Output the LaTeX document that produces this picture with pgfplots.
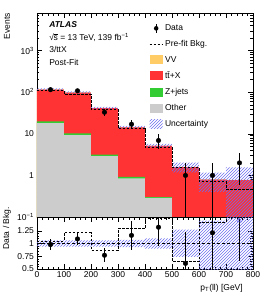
\documentclass[border=0pt]{standalone}
\usepackage{fontspec}
\setmainfont{Liberation Sans}
\usepackage{pgfplots}
\pgfplotsset{compat=1.18}
\usetikzlibrary{patterns}
\definecolor{vvc}{RGB}{255,204,102}
\definecolor{ttxc}{RGB}{255,51,51}
\definecolor{zjc}{RGB}{51,204,51}
\definecolor{othc}{RGB}{204,204,204}
\definecolor{hatchc}{RGB}{110,110,240}
\begin{document}
\fontsize{8.5}{10}\selectfont
\begin{tikzpicture}
\pgfplotsset{
  atlas/.style={
    width=216pt, scale only axis, xmin=0, xmax=800,
    xtick={0,100,...,800}, minor x tick num=4,
    tick align=inside, major tick length=5pt, minor tick length=2.5pt,
    /pgf/number format/assume math mode=true,
    tick label style={font=\fontsize{8.5}{10}\selectfont},
    label style={font=\fontsize{8.5}{10}\selectfont},
    axis line style={black, line width=0.6pt},
    every tick/.style={black, line width=0.4pt},
    clip=true,
  }
}
\begin{axis}[atlas, name=main, height=204pt, ymode=log, ymin=0.1, ymax=8000,
  xticklabels=\empty,
  ytick={0.1,1,10,100,1000},
  yticklabels={10\textsuperscript{−1},1,10,10\textsuperscript{2},10\textsuperscript{3}},
  minor ytick={0.2,0.3,0.4,0.5,0.6,0.7,0.8,0.9,2,3,4,5,6,7,8,9,20,30,40,50,60,70,80,90,200,300,400,500,600,700,800,900,2000,3000,4000,5000,6000,7000,8000},
  ylabel={Events},
  every axis y label/.style={at={(rel axis cs:0,1)}, xshift=-30pt, rotate=90, anchor=east, inner sep=0pt},
  legend style={at={(rel axis cs:0.519,0.953)}, anchor=north west, draw=none, fill=none,
    font=\fontsize{8.5}{10}\selectfont, row sep=4.5pt, inner sep=0pt,
    /tikz/every even column/.append style={column sep=4pt}},
  legend cell align=left,
]
% VV (total)
\addplot[fill=vvc, draw=none, const plot, forget plot] coordinates {(0,0.001) (0,117) (100,99) (200,42) (300,14.5) (400,5.2) (500,1.6) (600,0.8) (700,0.78) (800,0.78) (800,0.001)};
% ttX cumulative
\addplot[fill=ttxc, draw=none, const plot, forget plot] coordinates {(0,0.001) (0,115.8) (100,98) (200,41.55) (300,14.35) (400,5.14) (500,1.58) (600,0.79) (700,0.77) (800,0.77) (800,0.001)};
% Z+jets cumulative
\addplot[fill=zjc, draw=none, const plot, forget plot] coordinates {(0,0.001) (0,20) (100,10.3) (200,3.15) (300,0.92) (400,0.30) (500,0.02) (600,0.01) (700,0.01) (800,0.01) (800,0.001)};
% Other
\addplot[fill=othc, draw=none, const plot, forget plot] coordinates {(0,0.001) (0,18) (100,9.3) (200,2.9) (300,0.85) (400,0.29) (500,0.02) (600,0.01) (700,0.01) (800,0.01) (800,0.001)};
% Uncertainty band
\addplot[draw=none, pattern=north east lines, pattern color=hatchc, forget plot] coordinates {
 (0,124) (100,124) (100,105) (200,105) (200,44.5) (300,44.5) (300,15.5) (400,15.5) (400,5.7) (500,5.7) (500,2.03) (600,2.03) (600,1.16) (700,1.16) (700,1.56) (800,1.56)
 (800,0.01) (700,0.01) (700,0.4) (600,0.4) (600,1.18) (500,1.18) (500,4.7) (400,4.7) (400,13.5) (300,13.5) (300,39.5) (200,39.5) (200,93) (100,93) (100,110) (0,110)};
% Pre-fit
\addplot[black, line width=0.8pt, dash pattern=on 2.5pt off 1.5pt, const plot, forget plot] coordinates {(0,110) (100,89) (200,38) (300,13.2) (400,4.6) (500,1.54) (600,0.71) (700,0.47) (800,0.47)};
% Data
\addplot[black, only marks, mark=*, mark size=2.3pt, forget plot,
  error bars/.cd, y dir=both, y explicit, error mark=none, error bar style={line width=0.8pt, black}]
  coordinates {(50,115) +- (0,10.7) (150,108) +- (0,10.4) (250,33) +- (0,5.7) (350,17) +- (0,4.1)
   (450,6.9) += (0,3.1) -= (0,2.7) (550,1) += (0,1) -= (0,0.99) (650,1) += (0,1) -= (0,0.99) (750,2) +- (0,1.41)};
% legend
\addlegendimage{legend image code/.code={\path[draw=none, fill=none] (0pt,-4.5pt) (13pt,4.5pt); \draw[black, solid, line width=0.8pt] (6.5pt,-4.5pt)--(6.5pt,4.5pt); \fill[black, draw=none] (6.5pt,0pt) circle[radius=2.3pt];}}
\addlegendentry{Data}
\addlegendimage{legend image code/.code={\path[draw=none, fill=none] (0pt,-4.5pt) (13pt,4.5pt); \draw[black, line width=0.8pt, dash pattern=on 2.5pt off 1.5pt] (0pt,0pt)--(13pt,0pt);}}
\addlegendentry{Pre-fit Bkg.}
\addlegendimage{legend image code/.code={\fill[vvc, draw=none] (0pt,-4.5pt) rectangle (13pt,4.5pt);}}
\addlegendentry{VV}
\addlegendimage{legend image code/.code={\fill[ttxc, draw=none] (0pt,-4.5pt) rectangle (13pt,4.5pt);}}
\addlegendentry{t\={t}+X}
\addlegendimage{legend image code/.code={\fill[zjc, draw=none] (0pt,-4.5pt) rectangle (13pt,4.5pt);}}
\addlegendentry{Z+jets}
\addlegendimage{legend image code/.code={\fill[othc, draw=none] (0pt,-4.5pt) rectangle (13pt,4.5pt);}}
\addlegendentry{Other}
\addlegendimage{legend image code/.code={\path[draw=none, pattern=north east lines, pattern color=hatchc] (0pt,-4.5pt) rectangle (13pt,4.5pt);}}
\addlegendentry{Uncertainty}
% labels
\node[anchor=west, inner sep=0pt, font=\fontsize{8.5}{10}\selectfont\bfseries\itshape] at (rel axis cs:0.056,0.941) {ATLAS};
\node[anchor=west, inner sep=0pt] at (rel axis cs:0.056,0.879) {√\kern-0.3pt\makebox[0pt][l]{\rule[6.5pt]{4.3pt}{0.45pt}}s = 13 TeV, 139 fb\textsuperscript{−1}};
\node[anchor=west, inner sep=0pt] at (rel axis cs:0.056,0.819) {3/ttX};
\node[anchor=west, inner sep=0pt] at (rel axis cs:0.056,0.756) {Post-Fit};
\end{axis}

\begin{axis}[atlas, name=ratio, at={(main.south west)}, anchor=north west, height=52pt,
  ymin=0.5, ymax=1.52, ytick={0.5,0.75,1,1.25}, yticklabels={0.5,0.75,1,1.25}, minor y tick num=4,
  xlabel={p\textsubscript{T}(ll) [GeV]},
  every axis x label/.style={at={(rel axis cs:1,0)}, anchor=north east, xshift=-10pt, yshift=-15pt, inner sep=0pt},
  ylabel={Data / Bkg.},
  every axis y label/.style={at={(rel axis cs:0,1)}, xshift=-30pt, yshift=10pt, rotate=90, anchor=east, inner sep=0pt},
]
\addplot[draw=none, pattern=north east lines, pattern color=hatchc, forget plot] coordinates {
 (0,1.06) (100,1.06) (100,1.06) (200,1.06) (200,1.06) (300,1.06) (300,1.07) (400,1.07) (400,1.10) (500,1.10) (500,1.27) (600,1.27) (600,1.45) (700,1.45) (700,1.6) (800,1.6)
 (800,0.4) (700,0.4) (700,0.45) (600,0.45) (600,0.74) (500,0.74) (500,0.90) (400,0.90) (400,0.93) (300,0.93) (300,0.94) (200,0.94) (200,0.94) (100,0.94) (100,0.94) (0,0.94)};
\addplot[black, line width=0.6pt, dash pattern=on 3pt off 2pt, forget plot] coordinates {(0,1) (800,1)};
\addplot[black, line width=0.8pt, dash pattern=on 2.5pt off 1.5pt, const plot, forget plot] coordinates {(0,1.05) (100,1.21) (200,0.87) (300,1.29) (400,1.49) (500,0.65) (600,1.41) (700,2.5) (800,2.5)};
\addplot[black, only marks, mark=*, mark size=2.3pt, forget plot,
  error bars/.cd, y dir=both, y explicit, error mark=none, error bar style={line width=0.8pt, black}]
  coordinates {(50,0.98) +- (0,0.1) (150,1.09) +- (0,0.12) (250,0.77) +- (0,0.14) (350,1.16) +- (0,0.29)
   (450,1.32) +- (0,0.36) (550,0.61) +- (0,0.61) (650,1.21) +- (0,1.21)};
\addplot[only marks, mark=triangle, mark size=2.5pt, mark options={draw=hatchc, fill=white, line width=0.6pt}, forget plot,
  error bars/.cd, y dir=both, y explicit, error mark=none, error bar style={line width=0.8pt, black}]
  coordinates {(750,1.45) += (0,0.2) -= (0,0.79)};
\end{axis}
\path (main.north west) ++(-37pt,13pt) rectangle ++(266pt,-301pt);
\end{tikzpicture}
\end{document}
